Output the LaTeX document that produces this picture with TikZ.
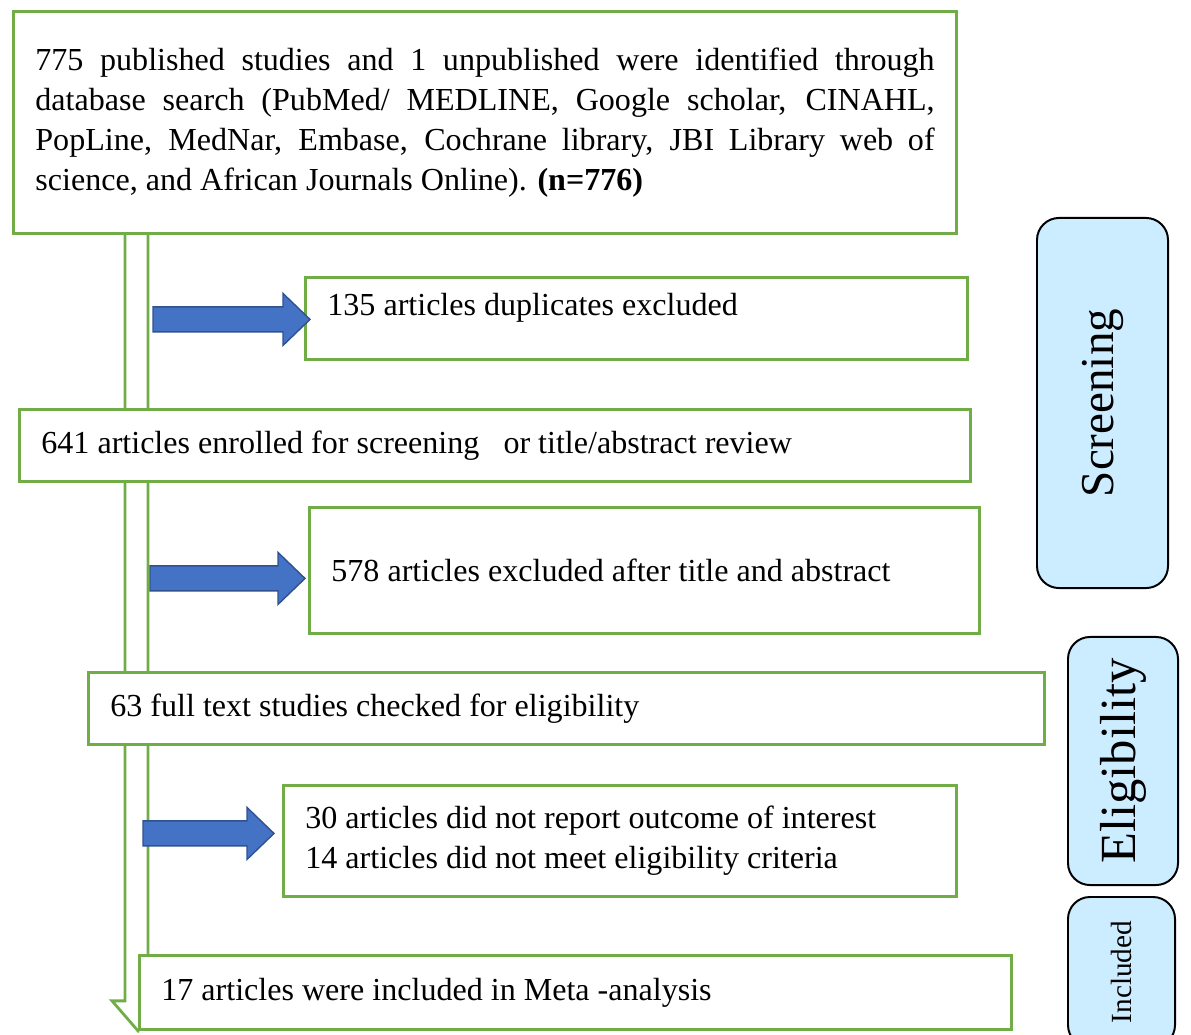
\documentclass[tikz,border=0pt]{standalone}
\usepackage{fontspec}
\setmainfont{Liberation Serif}
\usepackage{tikz}
\usetikzlibrary{calc}
\usetikzlibrary{backgrounds}
\definecolor{boxgreen}{RGB}{112,173,71}
\definecolor{arrowblue}{RGB}{68,114,196}
\definecolor{arrowedge}{RGB}{47,82,143}
\definecolor{stagefill}{RGB}{204,236,255}

\begin{document}
\begin{tikzpicture}[x=0.025cm,y=-0.025cm,
		flowbox/.style={draw=boxgreen,line width=2pt,fill=white,anchor=north west,align=justify,inner xsep=0.55cm,font=\fontsize{22.8}{28.45}\selectfont,execute at begin node={\tolerance=10000\hyphenpenalty=10000}},
		stagebox/.style={draw=black,line width=1.4pt,fill=stagefill,rounded corners=0.55cm,rotate=90},
		bluearrow/.style={fill=arrowblue,draw=arrowedge,line width=1pt},
		flowline/.style={draw=boxgreen,line width=2pt}]
		\useasboundingbox (0,0) rectangle (1191,1034);
		\clip (0,0) rectangle (1191,1034);
		\node[flowbox,minimum width=23.575cm,minimum height=5.55cm,text width=22.475cm] (search) at (12,10) {775 published studies and 1 unpublished were identified through\linebreak database search (PubMed/ MEDLINE, Google scholar, CINAHL,\linebreak PopLine, MedNar, Embase, Cochrane library, JBI Library web of\linebreak science, and African Journals Online). \textbf{(n=776)}};
		\node[flowbox,minimum width=16.55cm,minimum height=2.05cm,text width=15.45cm,text depth=0.68cm] (dupl) at (304,276) {135 articles duplicates excluded};
		\node[flowbox,minimum width=23.775cm,minimum height=1.8cm,text width=22.675cm] (screen) at (18,408) {641 articles enrolled for screening~~~or title/abstract review};
		\node[flowbox,minimum width=16.75cm,minimum height=3.15cm,text width=15.65cm] (absexcl) at (308,506) {578 articles excluded after title and abstract};
		\node[flowbox,minimum width=23.9cm,minimum height=1.8cm,text width=22.8cm] (fulltext) at (87,671) {63 full text studies checked for eligibility};
		\node[flowbox,minimum width=16.825cm,minimum height=2.775cm,text width=15.725cm] (fullexcl) at (282,784) {30 articles did not report outcome of interest\\14 articles did not meet eligibility criteria};
		\node[flowbox,minimum width=21.8cm,minimum height=1.85cm,text width=20.7cm] (incl) at (138,954) {17 articles were included in Meta -analysis};
		\node[stagebox,minimum width=9.25cm,minimum height=3.275cm,font=\fontsize{33.5}{40}\selectfont] (lblscreen) at (1102.5,403) {Screening};
		\node[stagebox,minimum width=6.2cm,minimum height=2.75cm,font=\fontsize{36}{43}\selectfont] (lblelig) at (1123,761) {Eligibility};
		\node[stagebox,minimum width=3.75cm,minimum height=2.675cm,font=\fontsize{20.8}{25}\selectfont] (lblincl) at (1121.5,972) {Included};
		\foreach \tgt/\dx/\dy/\len in {dupl/6/1/157,absexcl/-3/8/155,fullexcl/-8/-7.5/131}
			\draw[bluearrow] ($(\tgt.west)+(\dx,\dy)$) -- ++(-27,-26) -- ++(0,13.5) -- ++({27-\len},0) -- ++(0,25) -- ++({\len-27},0) -- ++(0,13.5) -- cycle;
		\begin{scope}[on background layer]
			\draw[flowline] ($(search.south west)+(113,0)$) -- ($(incl.south west)+(-13,-30)$) -- ++(-13,0) -- (incl.south west) -- ++(20,-30) -- ++(-10,0) -- ($(search.south west)+(136,0)$);
		\end{scope}
	\end{tikzpicture}
\end{document}
